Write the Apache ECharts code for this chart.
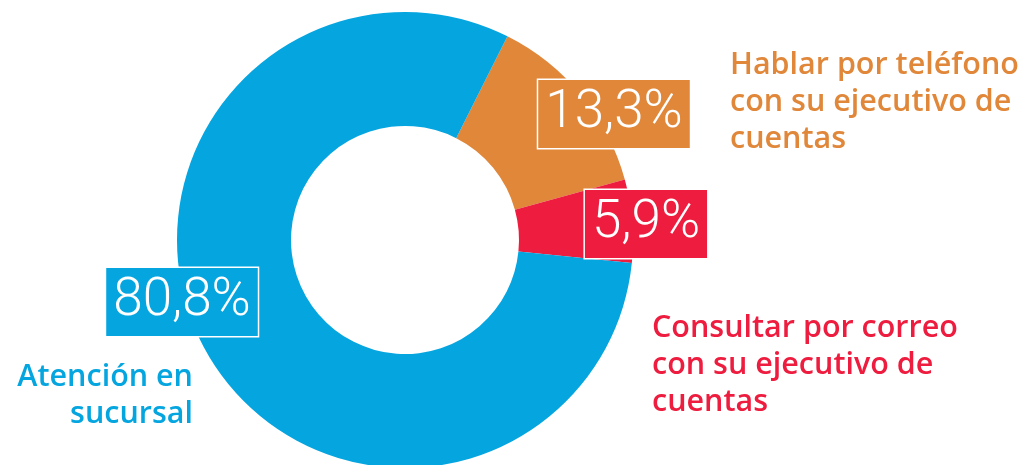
<!DOCTYPE html>
<html>
<head>
<meta charset="utf-8">
<script src="https://cdn.jsdelivr.net/npm/echarts@6/dist/echarts.min.js"></script>
<style>
  html, body { margin: 0; padding: 0; background: #ffffff; }
  #chart { width: 1026px; height: 465px; }
</style>
</head>
<body>
<div id="chart"></div>
<script>
// Canales de atención preferidos (%)
const categories = [
  'Hablar por teléfono\ncon su ejecutivo de\ncuentas',
  'Consultar por correo\ncon su ejecutivo de\ncuentas',
  'Atención en\nsucursal'
];
const values = [13.3, 5.9, 80.8];
const colors = ['#E0873A', '#EE1C3E', '#05A5E0'];

// Percentage boxes (centre points) and category captions
const boxPos = [[614, 114], [646, 224], [182, 302]];
const captionPos = [
  { x: 730, y: 102, align: 'left' },
  { x: 652, y: 365, align: 'left' },
  { x: 193, y: 396, align: 'right' }
];

const fmt = v => v.toFixed(1).replace('.', ',') + '%';

const chart = echarts.init(document.getElementById('chart'), null, { renderer: 'canvas' });

chart.setOption({
  animation: false,
  backgroundColor: '#ffffff',
  series: [{
    type: 'pie',
    center: [405, 240],
    radius: [114, 228],
    startAngle: 63.3,
    clockwise: true,
    avoidLabelOverlap: false,
    silent: true,
    itemStyle: { borderWidth: 0 },
    label: {
      show: true,
      position: 'inside',
      formatter: p => fmt(p.value),
      color: '#ffffff',
      fontFamily: 'Roboto',
      fontWeight: 300,
      fontSize: 53,
      lineHeight: 58,
      padding: [6, 7, 4, 7],
      borderColor: '#ffffff',
      borderWidth: 1.5
    },
    labelLine: { show: false },
    labelLayout: p => ({
      x: boxPos[p.dataIndex][0],
      y: boxPos[p.dataIndex][1],
      align: 'center',
      verticalAlign: 'middle'
    }),
    data: values.map((v, i) => ({
      name: categories[i],
      value: v,
      itemStyle: { color: colors[i] },
      label: { backgroundColor: colors[i] }
    }))
  }],
  graphic: categories.map((name, i) => ({
    type: 'text',
    silent: true,
    style: {
      text: name,
      x: captionPos[i].x,
      y: captionPos[i].y,
      align: captionPos[i].align,
      verticalAlign: 'middle',
      fill: colors[i],
      fontFamily: 'Open Sans',
      fontWeight: 600,
      fontSize: 30.5,
      lineHeight: 37
    }
  }))
});
</script>
</body>
</html>
